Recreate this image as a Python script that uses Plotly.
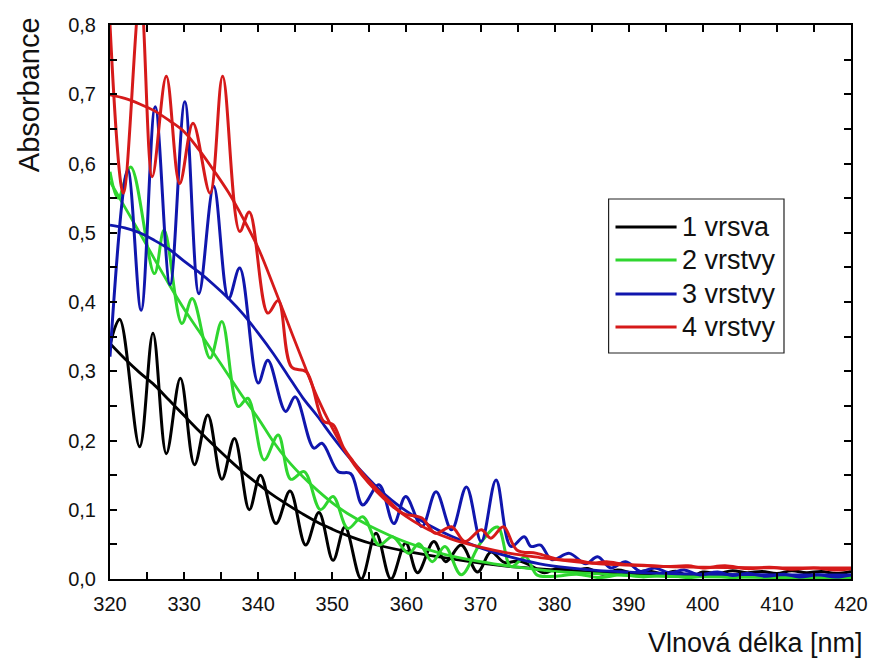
import plotly.graph_objects as go

# --- measured spectra (wavelength in nm, absorbance) ---
x_1 = [320, 321.3, 324.0, 325.8, 327.6, 329.5, 331.4, 333.2, 335.1, 336.8, 338.8, 340.3,
       342.4, 344.3, 346.4, 348.2, 350.1, 351.7, 353.9, 355.9, 357.9, 359.9, 361.5, 363.7,
       365.3, 367.4, 369.6, 371.4, 373.2, 375.3, 377.0, 378.6, 380.5, 382.5, 384.5, 386.5,
       388.5, 390.5, 392.5, 394.5, 396.5, 398.3, 400, 402, 404, 406, 408, 410, 412, 414,
       416, 418, 420]
y_1 = [0.338, 0.375, 0.191, 0.355, 0.181, 0.290, 0.165, 0.237, 0.144, 0.203, 0.100, 0.150,
       0.080, 0.127, 0.049, 0.096, 0.027, 0.075, 0.0, 0.066, 0.0, 0.052, 0.009, 0.054,
       0.025, 0.049, 0.010, 0.039, 0.024, 0.026, 0.018, 0.009, 0.016, 0.012, 0.015, 0.007,
       0.013, 0.009, 0.012, 0.008, 0.011, 0.003, 0.010, 0.008, 0.012, 0.009, 0.011, 0.008,
       0.012, 0.009, 0.011, 0.008, 0.011]

x_2 = [320, 321.1, 322.8, 326.0, 327.3, 329.7, 331.1, 333.5, 335.1, 337.3, 338.6, 340.8,
       342.7, 344.4, 346.2, 348.4, 350.1, 352.1, 354.1, 356.3, 358.1, 360.3, 361.7, 363.5,
       365.2, 367.4, 370.0, 372.3, 374.1, 376.1, 377.6, 380, 383, 386, 389, 392, 395, 398,
       401, 404, 407, 410, 413, 416, 420]
y_2 = [0.588, 0.550, 0.595, 0.441, 0.504, 0.369, 0.405, 0.319, 0.372, 0.249, 0.261, 0.172,
       0.208, 0.144, 0.155, 0.100, 0.119, 0.073, 0.090, 0.049, 0.061, 0.037, 0.051, 0.025,
       0.047, 0.006, 0.052, 0.075, 0.018, 0.032, 0.006, 0.004, 0.007, 0.002, 0.006, 0.003,
       0.006, 0.002, 0.005, 0.002, 0.005, 0.003, 0.005, 0.003, 0.004]

x_3 = [320, 322.4, 324.2, 326.1, 328.1, 330.1, 332.0, 334.0, 336.0, 337.5, 340.0, 341.3,
       343.7, 345.0, 347.5, 348.6, 350.8, 352.5, 354.1, 356.3, 358.3, 359.9, 362.1, 364.0,
       366.1, 368.1, 370.1, 372.1, 374.1, 375.9, 376.8, 378.1, 379.6, 382.0, 384.2, 385.8,
       387.6, 389.6, 391.6, 393.5, 395.5, 397.5, 399.5, 402, 404, 406, 408.5, 411, 413,
       415.5, 418, 420]
y_3 = [0.321, 0.591, 0.388, 0.682, 0.425, 0.689, 0.412, 0.567, 0.405, 0.449, 0.283, 0.316,
       0.242, 0.263, 0.189, 0.196, 0.155, 0.152, 0.107, 0.136, 0.080, 0.119, 0.076, 0.126,
       0.071, 0.133, 0.054, 0.143, 0.047, 0.061, 0.047, 0.049, 0.028, 0.037, 0.022, 0.032,
       0.016, 0.025, 0.011, 0.016, 0.009, 0.013, 0.006, 0.010, 0.005, 0.008, 0.004, 0.007,
       0.003, 0.006, 0.003, 0.006]

x_4 = [320, 321.8, 324.1, 325.7, 327.6, 329.4, 331.2, 333.5, 335.2, 337.5, 338.8, 341.3,
       342.7, 344.5, 346.5, 348.8, 350.1, 351.5, 352.8, 354.6, 357.7, 359.5, 362.1, 363.9,
       366.1, 367.9, 370.1, 371.4, 373.1, 374.9, 377.6, 380.7, 383, 385.1, 387, 389.5, 392,
       395, 398, 400, 403, 406, 409, 412, 415, 418, 420]
y_4 = [0.800, 0.557, 0.845, 0.581, 0.726, 0.571, 0.658, 0.557, 0.726, 0.502, 0.530, 0.384,
       0.402, 0.306, 0.299, 0.228, 0.223, 0.190, 0.170, 0.146, 0.112, 0.095, 0.088, 0.066,
       0.0755, 0.054, 0.071, 0.059, 0.0755, 0.042, 0.037, 0.028, 0.027, 0.023, 0.025,
       0.021, 0.020, 0.018, 0.019, 0.016, 0.019, 0.015, 0.017, 0.014, 0.016, 0.013, 0.015]

# --- fitted envelopes ---
fx_1 = [320, 322, 324, 326, 328, 330, 332, 334, 336, 338, 340, 342, 344, 346, 348, 350,
        352, 355, 360, 365, 370, 375, 380, 385, 390, 400, 410, 420]
fy_1 = [0.340, 0.318, 0.298, 0.280, 0.258, 0.236, 0.214, 0.193, 0.173, 0.154, 0.137, 0.121,
        0.107, 0.094, 0.082, 0.072, 0.063, 0.052, 0.040, 0.031, 0.023, 0.017, 0.013, 0.010,
        0.008, 0.006, 0.005, 0.004]

fx_2 = [320, 322, 324, 326, 328, 330, 332, 334, 336, 338, 340, 342, 344, 346, 348, 350,
        352, 355, 360, 365, 370, 375, 380, 385, 390, 400, 410, 420]
fy_2 = [0.574, 0.537, 0.500, 0.462, 0.425, 0.390, 0.358, 0.326, 0.294, 0.262, 0.232, 0.199,
        0.171, 0.148, 0.128, 0.110, 0.095, 0.077, 0.053, 0.036, 0.025, 0.017, 0.011, 0.008,
        0.005, 0.003, 0.002, 0.001]

fx_3 = [320, 322, 324, 326, 328, 330, 332, 334, 336, 338, 340, 342, 344, 346, 348, 350,
        352, 354, 356, 358, 360, 363, 366, 370, 374, 378, 382, 386, 390, 395, 400, 410, 420]
fy_3 = [0.511, 0.507, 0.500, 0.489, 0.476, 0.459, 0.443, 0.425, 0.405, 0.382, 0.355, 0.326,
        0.294, 0.262, 0.235, 0.206, 0.179, 0.155, 0.133, 0.114, 0.098, 0.078, 0.062, 0.045,
        0.032, 0.022, 0.016, 0.012, 0.010, 0.008, 0.007, 0.006, 0.006]

fx_4 = [320, 322, 324, 326, 328, 330, 332, 334, 336, 338, 340, 342, 344, 346, 348, 350,
        352, 354, 356, 358, 360, 363, 366, 370, 374, 378, 382, 386, 390, 395, 400, 410, 420]
fy_4 = [0.699, 0.694, 0.686, 0.676, 0.662, 0.646, 0.620, 0.590, 0.558, 0.520, 0.478, 0.425,
        0.370, 0.315, 0.262, 0.218, 0.180, 0.150, 0.126, 0.106, 0.090, 0.071, 0.058, 0.046,
        0.037, 0.031, 0.026, 0.022, 0.020, 0.018, 0.017, 0.016, 0.016]

names = ["1 vrsva", "2 vrstvy", "3 vrstvy", "4 vrstvy"]
colors = ["#000000", "#2fd62f", "#1016ad", "#d61a1a"]
measured = [(x_1, y_1), (x_2, y_2), (x_3, y_3), (x_4, y_4)]
fitted = [(fx_1, fy_1), (fx_2, fy_2), (fx_3, fy_3), (fx_4, fy_4)]

FONT = "Liberation Sans, Arial, sans-serif"

fig = go.Figure()
for name, color, (mx, my), (fx, fy) in zip(names, colors, measured, fitted):
    fig.add_trace(go.Scatter(x=mx, y=my, mode="lines", name=name, showlegend=False,
                             line=dict(color=color, width=3, shape="spline", smoothing=1.0)))
    fig.add_trace(go.Scatter(x=fx, y=fy, mode="lines", name=name + " fit", showlegend=False,
                             line=dict(color=color, width=2.8, shape="spline", smoothing=1.0)))

# plot-area geometry in pixels, used to place the legend box
L, R, T, B = 110, 862, 25, 579


def px_x(p):
    return (p - L) / (R - L)


def px_y(p):
    return (B - p) / (B - T)


shapes = [dict(type="rect", xref="paper", yref="paper",
               x0=px_x(616), x1=px_x(794), y0=px_y(353), y1=px_y(199),
               line=dict(color="#222222", width=1.2), fillcolor="white", layer="above")]
annotations = []
rows = [227, 260, 294, 327]
for name, color, row in zip(names, colors, rows):
    shapes.append(dict(type="line", xref="paper", yref="paper",
                       x0=px_x(623), x1=px_x(685), y0=px_y(row), y1=px_y(row),
                       line=dict(color=color, width=3), layer="above"))
    annotations.append(dict(text=name, xref="paper", yref="paper", x=px_x(688), y=px_y(row),
                            xanchor="left", yanchor="middle", showarrow=False,
                            font=dict(family=FONT, size=27, color="#111111")))

annotations.append(dict(text="Absorbance", xref="paper", yref="paper",
                        x=px_x(28), y=px_y(95), textangle=-90,
                        xanchor="center", yanchor="middle", showarrow=False,
                        font=dict(family=FONT, size=29, color="#111111")))
annotations.append(dict(text="Vlnová délka [nm]", xref="paper", yref="paper",
                        x=px_x(765), y=px_y(643), xanchor="center", yanchor="middle",
                        showarrow=False, font=dict(family=FONT, size=27, color="#111111")))

axis_common = dict(showgrid=False, zeroline=False, showline=True, linecolor="black",
                   linewidth=2, mirror="ticks", ticks="inside", ticklen=7, tickwidth=1.5,
                   tickcolor="black", tickfont=dict(family=FONT, size=20, color="#111111"))

fig.update_layout(
    width=880, height=660,
    margin=dict(l=L, r=880 - R, t=T, b=660 - B),
    paper_bgcolor="white", plot_bgcolor="white",
    separators=", ",
    showlegend=False,
    shapes=shapes,
    annotations=annotations,
    xaxis=dict(range=[320, 420], dtick=10, tick0=320, ticklabelstandoff=6,
               minor=dict(dtick=5, ticks="inside", ticklen=7, tickwidth=1.5, tickcolor="black"),
               **axis_common),
    yaxis=dict(range=[0, 0.8], dtick=0.1, tick0=0, tickformat=".1f", ticklabelstandoff=8,
               minor=dict(dtick=0.05, ticks="inside", ticklen=7, tickwidth=1.5,
                          tickcolor="black"),
               **axis_common),
)

fig.write_html("out.html")
